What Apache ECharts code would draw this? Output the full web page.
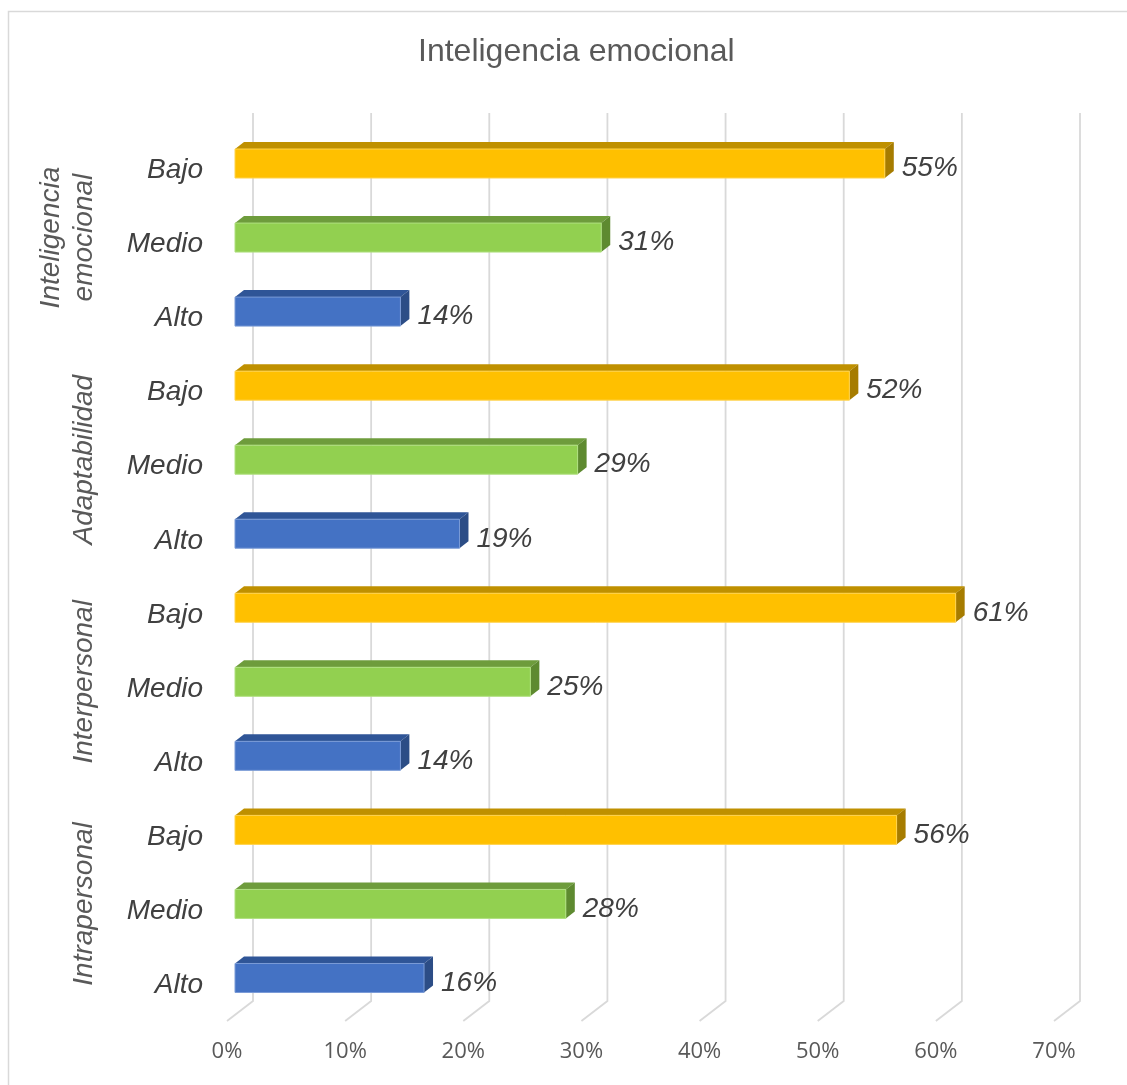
<!DOCTYPE html>
<html>
<head>
<meta charset="utf-8">
<script src="https://cdn.jsdelivr.net/npm/echarts@6/dist/echarts.min.js"></script>
<style>
html,body{margin:0;padding:0;background:#fff;}
#chart{width:1127px;height:1085px;}
</style>
</head>
<body>
<div id="chart"></div>
<script>
// ---- data ----
const titleText = 'Inteligencia emocional';
const categories = ['Bajo','Medio','Alto','Bajo','Medio','Alto','Bajo','Medio','Alto','Bajo','Medio','Alto'];
const groups = ['Inteligencia\nemocional','Adaptabilidad','Interpersonal','Intrapersonal'];
const values = [55, 31, 14, 52, 29, 19, 61, 25, 14, 56, 28, 16];
const levelOfBar = ['Bajo','Medio','Alto','Bajo','Medio','Alto','Bajo','Medio','Alto','Bajo','Medio','Alto'];
const xTicks = [0, 10, 20, 30, 40, 50, 60, 70];

// ---- styles ----
const palette = {
  Bajo:  {front:'#FFC000', top:'#BF9000', side:'#A67C00', edge:'#FFD34D'},
  Medio: {front:'#92D050', top:'#6E9C3C', side:'#5E8A30', edge:'#B0E080'},
  Alto:  {front:'#4472C4', top:'#2F5597', side:'#2C4D86', edge:'#7A9BD6'}
};
const FONT = '"Liberation Sans", Arial, sans-serif';
const SHIFT_X = -18;  // front plane offset vs back wall
const BAR_H = 29, DX = 9, DY = 7;

const chart = echarts.init(document.getElementById('chart'));

const barData = values.map((v, i) => [v, i]);
const gridData = xTicks.map(t => [t, 0]);

function renderBar(params, api) {
  const v = api.value(0), i = api.value(1);
  const p0 = api.coord([0, i]);
  const p1 = api.coord([v, i]);
  const x0 = p0[0] + SHIFT_X, x1 = p1[0] + SHIFT_X;
  const yc = p0[1];
  const yt = yc - BAR_H / 2, yb = yc + BAR_H / 2;
  const c = palette[levelOfBar[params.dataIndex]];
  return {
    type: 'group',
    children: [
      {type:'polygon', shape:{points:[[x0,yt],[x1,yt],[x1+DX,yt-DY],[x0+DX,yt-DY]]}, style:{fill:c.top}},
      {type:'polygon', shape:{points:[[x1,yt],[x1+DX,yt-DY],[x1+DX,yb-DY],[x1,yb]]}, style:{fill:c.side}},
      {type:'rect', shape:{x:x0, y:yt, width:x1-x0, height:BAR_H}, style:{fill:c.front, stroke:c.edge, lineWidth:1}},
      {type:'text', x:x1+DX+8, y:yc+5, style:{text:v+'%', font:'italic 28px '+FONT, fill:'#404040', verticalAlign:'middle', align:'left'}}
    ]
  };
}

function renderGrid(params, api) {
  const x = api.coord([api.value(0), 0])[0];
  const cs = params.coordSys;
  const top = cs.y - 13.5, bottom = cs.y + cs.height - 14;
  return {
    type:'polyline',
    shape:{points:[[x, top],[x, bottom],[x-26, bottom+20]]},
    style:{stroke:'#D9D9D9', lineWidth:1.8, fill:null}
  };
}

chart.setOption({
  backgroundColor:'#fff',
  animation:false,
  title:{
    text:titleText, left:413, top:31,
    textStyle:{fontFamily:FONT, fontSize:32, fontWeight:'normal', color:'#595959'}
  },
  graphic:[{type:'rect', shape:{x:8.5, y:11.5, width:1140, height:1100}, style:{fill:null, stroke:'#D9D9D9', lineWidth:1.5}, z:-10}],
  grid:{left:253, right:47, top:126.5, bottom:70},
  xAxis:{
    type:'value', min:0, max:70, interval:10,
    axisLine:{show:false}, axisTick:{show:false}, splitLine:{show:false},
    axisLabel:{formatter:'{value}%', fontFamily:'"Open Sans", sans-serif', fontSize:22, color:'#595959', margin:26, padding:[0,52,0,0]}
  },
  yAxis:[
    {
      type:'category', data:categories, inverse:true,
      axisLine:{show:false}, axisTick:{show:false}, splitLine:{show:false},
      axisLabel:{
        formatter: function (v) { return '{c|' + v + '}'; },
        rich:{c:{fontFamily:FONT, fontStyle:'italic', fontSize:28, color:'#404040', padding:[14,0,0,0]}},
        margin:50
      }
    },
    {
      type:'category', data:groups, inverse:true, position:'left', offset:0,
      axisLine:{show:false}, axisTick:{show:false}, splitLine:{show:false},
      axisLabel:{fontFamily:FONT, fontStyle:'italic', fontSize:28, color:'#595959', rotate:90, margin:152, lineHeight:33, align:'center'}
    }
  ],
  series:[
    {type:'custom', name:'grid', coordinateSystem:'cartesian2d', data:gridData, renderItem:renderGrid, z:1, silent:true, encode:{x:0, y:1}},
    {type:'custom', name:'bars', coordinateSystem:'cartesian2d', data:barData, renderItem:renderBar, z:2, encode:{x:0, y:1}}
  ]
});
</script>
</body>
</html>
